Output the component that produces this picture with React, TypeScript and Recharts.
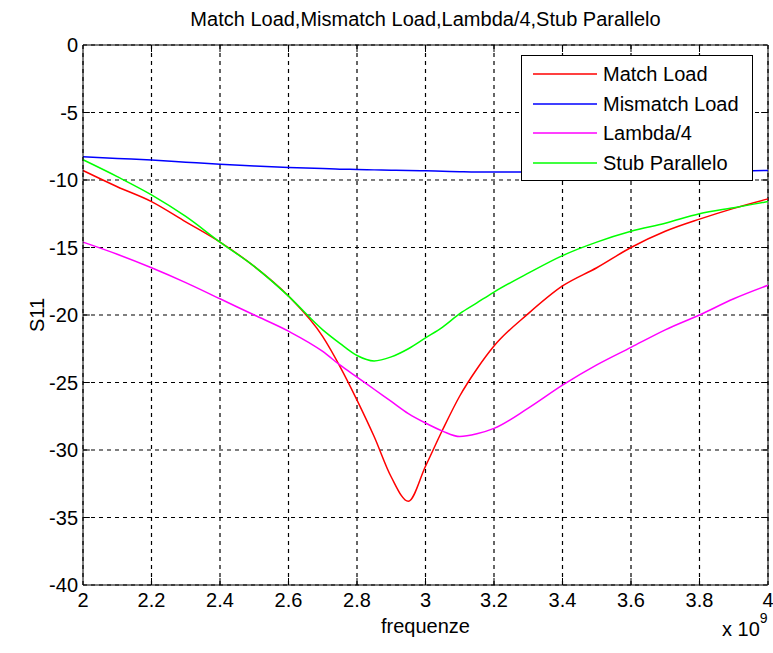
import React from 'react'
import {
  CartesianGrid,
  Legend,
  Line,
  LineChart,
  ReferenceLine,
  XAxis,
  YAxis,
} from 'recharts'

// frequency in units of 1e9 Hz
const freq = [
  2.0, 2.1, 2.2, 2.3, 2.4, 2.5, 2.6, 2.7, 2.75, 2.8, 2.85, 2.9, 2.95, 3.0, 3.05, 3.1, 3.15, 3.2, 3.3,
  3.4, 3.5, 3.6, 3.7, 3.8, 3.9, 4.0,
]
const matchLoad = [
  -9.3, -10.5, -11.6, -13.1, -14.6, -16.4, -18.6, -21.6, -23.8, -26.3, -29.0, -32.0, -33.8, -31.2,
  -28.5, -26.0, -24.0, -22.3, -19.9, -17.85, -16.5, -15.0, -13.8, -12.9, -12.1, -11.4,
]
const mismatchLoad = [
  -8.27, -8.4, -8.52, -8.68, -8.84, -8.96, -9.07, -9.15, -9.2, -9.22, -9.25, -9.28, -9.3, -9.32,
  -9.35, -9.38, -9.4, -9.4, -9.4, -9.4, -9.4, -9.4, -9.38, -9.35, -9.32, -9.3,
]
const lambda4 = [
  -14.6, -15.5, -16.5, -17.6, -18.8, -20.0, -21.2, -22.7, -23.7, -24.6, -25.5, -26.4, -27.3, -28.0,
  -28.6, -29.0, -28.8, -28.4, -26.9, -25.2, -23.7, -22.4, -21.1, -20.0, -18.8, -17.8,
]
const stubParallelo = [
  -8.5, -9.75, -11.1, -12.7, -14.6, -16.4, -18.6, -21.1, -22.1, -23.0, -23.4, -23.1, -22.5, -21.7,
  -20.9, -19.9, -19.1, -18.3, -16.9, -15.6, -14.6, -13.8, -13.2, -12.5, -12.05, -11.6,
]

const xTicks = [2, 2.2, 2.4, 2.6, 2.8, 3, 3.2, 3.4, 3.6, 3.8, 4]
const yTicks = [0, -5, -10, -15, -20, -25, -30, -35, -40]

const series = [
  { key: 'match', name: 'Match Load', color: '#ff0000', values: matchLoad },
  { key: 'mismatch', name: 'Mismatch Load', color: '#0000ff', values: mismatchLoad },
  { key: 'lambda', name: 'Lambda/4', color: '#ff00ff', values: lambda4 },
  { key: 'stub', name: 'Stub Parallelo', color: '#00ff00', values: stubParallelo },
]

const data = freq.map((f, i) => {
  const row: Record<string, number> = { f }
  series.forEach((s) => (row[s.key] = s.values[i]))
  return row
})

const FONT = '"Liberation Sans", Arial, sans-serif'
const tickLenX = 0.02
const tickLenY = 0.52

const LegendBox = () => (
  <div
    style={{
      boxSizing: 'border-box',
      width: 232,
      height: 126,
      border: '1px solid #000',
      background: '#fff',
      paddingTop: 3,
      fontFamily: FONT,
    }}
  >
    {series.map((s) => (
      <div key={s.key} style={{ display: 'flex', alignItems: 'center', height: 29.7 }}>
        <svg width={64} height={4} style={{ marginLeft: 11, flexShrink: 0 }}>
          <line x1={0} y1={2} x2={64} y2={2} stroke={s.color} strokeWidth={1.5} />
        </svg>
        <span style={{ marginLeft: 6, fontSize: 20, color: '#000', lineHeight: '20px' }}>{s.name}</span>
      </div>
    ))}
  </div>
)

export default function App() {
  return (
    <div style={{ position: 'absolute', left: 0, top: 0, width: 773, height: 653, background: '#fff', fontFamily: FONT }}>
      <div
        style={{
          position: 'absolute',
          left: 83,
          top: 8,
          width: 685,
          textAlign: 'center',
          fontSize: 20,
          color: '#000',
        }}
      >
        Match Load,Mismatch Load,Lambda/4,Stub Parallelo
      </div>
      <div style={{ position: 'absolute', left: 722, top: 618, fontSize: 20, color: '#000' }}>
        x 10<sup style={{ fontSize: 14, verticalAlign: 'top', position: 'relative', top: -8 }}>9</sup>
      </div>
      <LineChart width={773} height={653} data={data} margin={{ top: 45, right: 5, left: 23, bottom: 38 }}>
        <CartesianGrid stroke="#000" strokeWidth={1.2} strokeDasharray="4 4" />
        <XAxis
          dataKey="f"
          type="number"
          domain={[2, 4]}
          ticks={xTicks}
          height={30}
          tickLine={false}
          tickSize={6}
          tickMargin={2}
          axisLine={{ stroke: '#000' }}
          tick={{ fontSize: 20, fill: '#000', fontFamily: FONT }}
          label={{ value: 'frequenze', position: 'bottom', offset: 4, fontSize: 20, fill: '#000', fontFamily: FONT }}
        />
        <YAxis
          type="number"
          domain={[-40, 0]}
          ticks={yTicks}
          width={60}
          tickLine={false}
          tickSize={3}
          tickMargin={2}
          axisLine={{ stroke: '#000' }}
          tick={{ fontSize: 20, fill: '#000', fontFamily: FONT }}
          label={{
            value: 'S11',
            angle: -90,
            position: 'insideLeft',
            offset: 14,
            fontSize: 20,
            fill: '#000',
            fontFamily: FONT,
            style: { textAnchor: 'middle' },
          }}
        />
        <ReferenceLine y={0} stroke="#000" />
        <ReferenceLine x={4} stroke="#000" />
        {xTicks.slice(1, -1).map((t) => (
          <ReferenceLine key={`xb${t}`} segment={[{ x: t, y: -40 }, { x: t, y: -40 + tickLenY }]} stroke="#000" />
        ))}
        {xTicks.slice(1, -1).map((t) => (
          <ReferenceLine key={`xt${t}`} segment={[{ x: t, y: 0 }, { x: t, y: -tickLenY }]} stroke="#000" />
        ))}
        {yTicks.slice(1, -1).map((t) => (
          <ReferenceLine key={`yl${t}`} segment={[{ x: 2, y: t }, { x: 2 + tickLenX, y: t }]} stroke="#000" />
        ))}
        {yTicks.slice(1, -1).map((t) => (
          <ReferenceLine key={`yr${t}`} segment={[{ x: 4, y: t }, { x: 4 - tickLenX, y: t }]} stroke="#000" />
        ))}
        {series.map((s) => (
          <Line
            key={s.key}
            dataKey={s.key}
            name={s.name}
            type="monotone"
            stroke={s.color}
            strokeWidth={1.5}
            dot={false}
            isAnimationActive={false}
          />
        ))}
        <Legend
          layout="vertical"
          align="center"
          verticalAlign="middle"
          content={() => <LegendBox />}
          wrapperStyle={{ top: 55, left: 521, width: 232, height: 126 }}
        />
      </LineChart>
    </div>
  )
}
